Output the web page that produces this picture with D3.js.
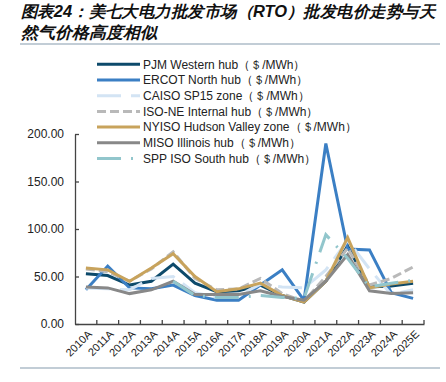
<!DOCTYPE html>
<html>
<head>
<meta charset="utf-8">
<script src="https://cdn.jsdelivr.net/npm/d3@7"></script>
<style>
  body { margin: 0; background: #fff; }
  text { font-family: "Liberation Sans", Arial, sans-serif; }
</style>
</head>
<body>
<div id="Grafica1"></div>
<script>
// datos
const years = ["2010A","2011A","2012A","2013A","2014A","2015A","2016A","2017A","2018A","2019A","2020A","2021A","2022A","2023A","2024A","2025E"];
const pjm   = [53, 51, 41, 45, 63, 43, 34, 35, 41, 30, 23, 45, 82, 39, 40, 43];
const ercot = [36, 61, 38, 37, 41, 30, 25, 25, 41, 57, 25, 190, 79, 78, 33, 27];
const caiso = [38, 37, 36, 48, 50, 33, 28, 30, 42, 39, 38, 57, 88, 58, 31, 36];
const isone = [58, 55, 45, 58, 76, 48, 36, 37, 48, 32, 24, 50, 80, 41, 48, 60];
const nyiso = [59, 57, 45, 59, 74, 50, 34, 37, 43, 30, 23, 45, 91, 38, 42, 45];
const miso  = [39, 38, 32, 36, 45, 31, 31, 31, 35, 29, 25, 45, 73, 35, 32, 33];
const spp   = [null, null, null, null, 45, 30, 28, 28, 30, 28, 27, 94, 69, 39, 43, 46];
const yTicks = [0, 50, 100, 150, 200];
const unit = "（＄/MWh）";

const series = [
  { name: "PJM Western hub", values: pjm, color: "#0d4a6b", dash: null },
  { name: "ERCOT North hub", values: ercot, color: "#3b7fc4", dash: null },
  { name: "CAISO SP15 zone", values: caiso, color: "#d3e4f4", dash: "24,10" },
  { name: "ISO-NE Internal hub", values: isone, color: "#b9b9b9", dash: "9,4" },
  { name: "NYISO Hudson Valley zone", values: nyiso, color: "#c8a35c", dash: null },
  { name: "MISO Illinois hub", values: miso, color: "#888888", dash: null },
  { name: "SPP ISO South hub", values: spp, color: "#92c6cc", dash: "24,10,2,10" }
];

const W = 446, H = 382;
const svg = d3.select("#Grafica1").append("svg").attr("width", W).attr("height", H);

// titulo
const title = svg.append("text")
  .attr("font-family", "'Noto Sans CJK SC', sans-serif")
  .attr("font-weight", "bold")
  .attr("font-style", "italic")
  .attr("font-size", 16)
  .attr("fill", "#111");
title.append("tspan").attr("x", 21).attr("y", 17)
  .attr("textLength", 414).attr("lengthAdjust", "spacingAndGlyphs")
  .text("图表24：美七大电力批发市场（RTO）批发电价走势与天");
title.append("tspan").attr("x", 21).attr("y", 38)
  .attr("textLength", 136).attr("lengthAdjust", "spacingAndGlyphs")
  .text("然气价格高度相似");

svg.append("line").attr("x1", 20).attr("x2", 440).attr("y1", 44).attr("y2", 44)
  .attr("stroke", "#aebcc8").attr("stroke-width", 1.5);
svg.append("line").attr("x1", 20).attr("x2", 440).attr("y1", 368).attr("y2", 368)
  .attr("stroke", "#aebcc8").attr("stroke-width", 1.5);

// escalas
const x = d3.scaleBand().domain(years).range([75, 424]);
const y = d3.scaleLinear().domain([0, 200]).range([324, 134]);

const axisColor = "#444";
const gy = svg.append("g").attr("transform", "translate(75,0)")
  .call(d3.axisLeft(y).tickValues(yTicks).tickFormat(d3.format(".2f")).tickSizeInner(-4).tickSizeOuter(0).tickPadding(11));
const gx = svg.append("g").attr("transform", "translate(0,324)")
  .call(d3.axisBottom(x).tickSize(0).tickFormat(""));
[gy, gx].forEach((g) => {
  g.select(".domain").attr("stroke", axisColor).attr("stroke-width", 1.3);
  g.selectAll("line").attr("stroke", axisColor).attr("stroke-width", 1.3);
});
gy.selectAll("text").attr("font-size", 12).attr("fill", "#222")
  .attr("font-family", "'Liberation Sans', Arial, sans-serif");

// marcas del eje x entre categorias
const bounds = years.map((d) => x(d)).concat([x.range()[1]]);
gx.selectAll("line.sep").data(bounds.slice(1)).enter().append("line")
  .attr("class", "sep")
  .attr("x1", (d) => d).attr("x2", (d) => d)
  .attr("y1", 0).attr("y2", -4)
  .attr("stroke", axisColor).attr("stroke-width", 1.3);

svg.append("g").selectAll("text").data(years).enter().append("text")
  .attr("transform", (d) => `translate(${x(d) + x.bandwidth() / 2 + 4},332) rotate(-45)`)
  .attr("text-anchor", "end")
  .attr("dy", "0.35em")
  .attr("font-size", 11)
  .attr("fill", "#222")
  .text((d) => d);

// lineas
const line = d3.line()
  .defined((d) => d != null)
  .x((d, i) => x(years[i]) + x.bandwidth() / 2)
  .y((d) => y(d));

svg.append("g").selectAll("path").data(series).enter().append("path")
  .attr("d", (s) => line(s.values))
  .attr("fill", "none")
  .attr("stroke", (s) => s.color)
  .attr("stroke-width", 3)
  .attr("stroke-dasharray", (s) => s.dash)
  .attr("stroke-linejoin", "miter");

// leyenda
const leg = svg.append("g").selectAll("g").data(series).enter().append("g")
  .attr("transform", (s, i) => `translate(97,${64.3 + i * 15.7})`);
leg.append("line")
  .attr("x1", 0).attr("x2", 43).attr("y1", 0).attr("y2", 0)
  .attr("stroke", (s) => s.color)
  .attr("stroke-width", 3)
  .attr("stroke-dasharray", (s) => s.dash);
leg.append("text")
  .attr("x", 46).attr("y", 0).attr("dy", "0.35em")
  .attr("font-size", 12)
  .attr("fill", "#222")
  .text((s) => s.name + unit);
</script>
</body>
</html>
